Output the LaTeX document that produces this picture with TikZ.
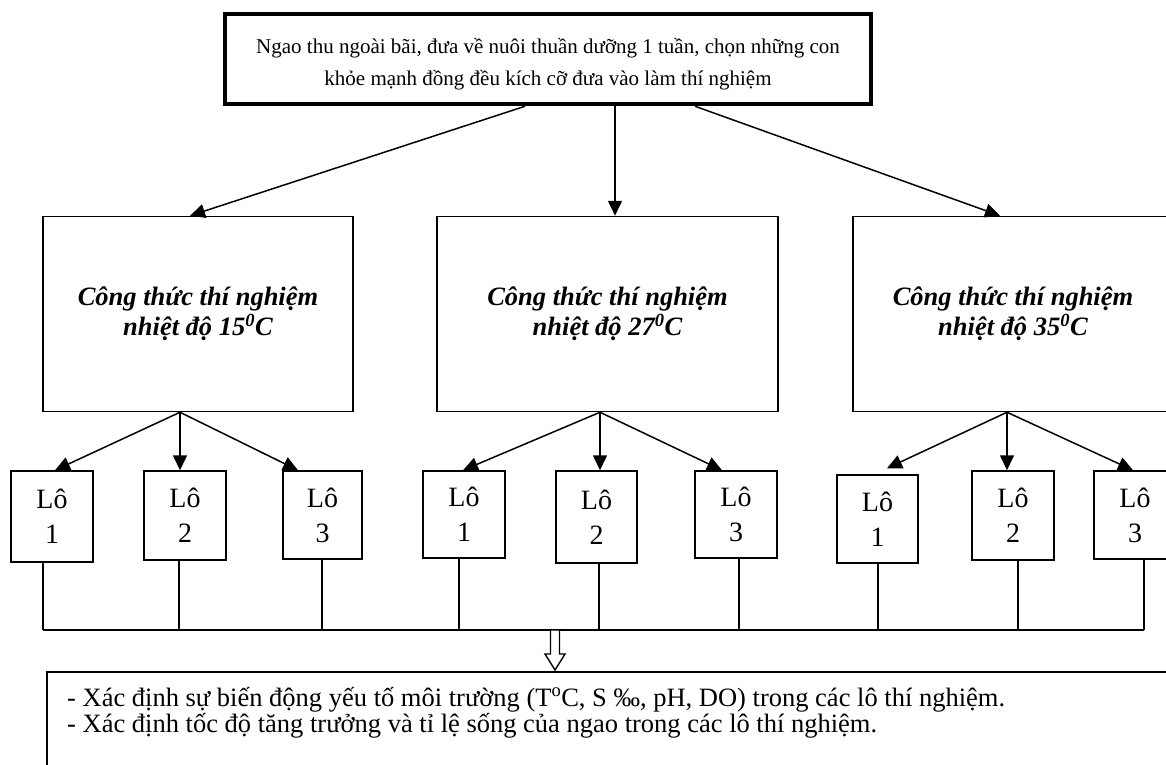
\documentclass[tikz,border=0pt]{standalone}
\usepackage{fontspec}
\setmainfont{Liberation Serif}
\usetikzlibrary{arrows.meta}
\begin{document}
\begin{tikzpicture}[x=1pt,y=-1pt,
  bx/.style={draw, line width=1.5pt, rectangle, inner sep=0pt, align=center},
  cbox/.style={bx, minimum height=195pt, font=\bfseries\itshape\fontsize{26.5}{30}\selectfont},
  lobox/.style={bx, font=\fontsize{28}{35}\selectfont},
  toptxt/.style={anchor=base, inner sep=0pt, font=\fontsize{21}{32}\selectfont},
  restxt/.style={anchor=base west, inner sep=0pt, font=\fontsize{26.5}{26}\selectfont},
  arr/.style={line width=1.5pt, -{Triangle[length=15pt,width=14pt]}},
  ln/.style={line width=1.5pt}]
\useasboundingbox (0,0) rectangle (1166,764);
\clip (0,0) rectangle (1166,764);
% top box
\node[draw, line width=4.5pt, minimum width=646pt, minimum height=90pt, inner sep=0pt] (top) at (548,59) {};
\node[toptxt] (t1) at (548,53) {Ngao thu ngoài bãi, đưa về nuôi thuần dưỡng 1 tuần, chọn những con};
\node[toptxt] (t2) at (548,85) {khỏe mạnh đồng đều kích cỡ đưa vào làm thí nghiệm};
% treatment boxes
\node[cbox, minimum width=310pt] (c1) at (198,314) {Công thức thí nghiệm\\ nhiệt độ 15\textsuperscript{0}C};
\node[cbox, minimum width=341pt] (c2) at (607.5,314) {Công thức thí nghiệm\\ nhiệt độ 27\textsuperscript{0}C};
\node[cbox, minimum width=320pt] (c3) at (1013,314) {Công thức thí nghiệm\\ nhiệt độ 35\textsuperscript{0}C};
% lots
\node[lobox, minimum width=82pt, minimum height=91pt] (l11) at (52,516.5) {Lô\\1};
\node[lobox, minimum width=82pt, minimum height=89pt] (l12) at (185,515.5) {Lô\\2};
\node[lobox, minimum width=79pt, minimum height=88pt] (l13) at (322.5,515) {Lô\\3};
\node[lobox, minimum width=82pt, minimum height=87pt] (l21) at (464,514.5) {Lô\\1};
\node[lobox, minimum width=81pt, minimum height=92pt] (l22) at (596.5,517) {Lô\\2};
\node[lobox, minimum width=82pt, minimum height=87pt] (l23) at (736,514.5) {Lô\\3};
\node[lobox, minimum width=81pt, minimum height=88pt] (l31) at (877.5,519) {Lô\\1};
\node[lobox, minimum width=82pt, minimum height=89pt] (l32) at (1013,515.5) {Lô\\2};
\node[lobox, minimum width=82pt, minimum height=88pt] (l33) at (1135,515) {Lô\\3};
% arrows from top
\draw[arr] ([xshift=-23pt]top.south) -- ([xshift=-8pt]c1.north);
\draw[arr] ([xshift=67pt]top.south) -- ([xshift=7.5pt]c2.north);
\draw[arr] ([xshift=147pt]top.south) -- ([xshift=-13pt]c3.north);
% arrows to lots
\draw[arr] ([xshift=-18pt]c1.south) -- ([xshift=3pt]l11.north);
\draw[arr] ([xshift=-18pt]c1.south) -- ([xshift=-5pt]l12.north);
\draw[arr] ([xshift=-18pt]c1.south) -- ([xshift=-24.5pt]l13.north);
\draw[arr] ([xshift=-7.5pt]c2.south) -- ([xshift=-1pt]l21.north);
\draw[arr] ([xshift=-7.5pt]c2.south) -- ([xshift=3.5pt]l22.north);
\draw[arr] ([xshift=-7.5pt]c2.south) -- ([xshift=-14pt]l23.north);
\draw[arr] ([xshift=-6pt]c3.south) -- ([xshift=9.5pt,yshift=6pt]l31.north);
\draw[arr] ([xshift=-6pt]c3.south) -- ([xshift=-6pt]l32.north);
\draw[arr] ([xshift=-6pt]c3.south) -- ([xshift=-2pt]l33.north);
% bus
\coordinate (busL) at (43,630);
\coordinate (busR) at (1144,630);
\draw[ln] (busL) -- (busR);
\foreach \n/\s in {l11/-9,l12/-6,l13/-0.5,l21/-5,l22/2.5,l23/3,l31/0.5,l32/5,l33/9}
  \draw[ln] ([xshift=\s pt]\n.south) -- ([xshift=\s pt]\n.south |- busL);
% hollow arrow
\coordinate (h) at (555,630);
\draw[line width=1.4pt, fill=white] (h) ++(-4.5,0) -- ++(0,24) -- ++(-5.5,0) -- ++(10,16) -- ++(10,-16) -- ++(-5.5,0) -- ++(0,-24) -- cycle;
% result box
\node[draw, line width=1.5pt, minimum width=1200pt, minimum height=200pt, inner sep=0pt, anchor=north west] (rb) at (46,671) {};
\node[restxt] (r1) at (67,706) {- Xác định sự biến động yếu tố môi trường (T\textsuperscript{o}C, S ‰, pH, DO) trong các lô thí nghiệm.};
\node[restxt] (r2) at (67,732) {- Xác định tốc độ tăng trưởng và tỉ lệ sống của ngao trong các lô thí nghiệm.};
\end{tikzpicture}
\end{document}
